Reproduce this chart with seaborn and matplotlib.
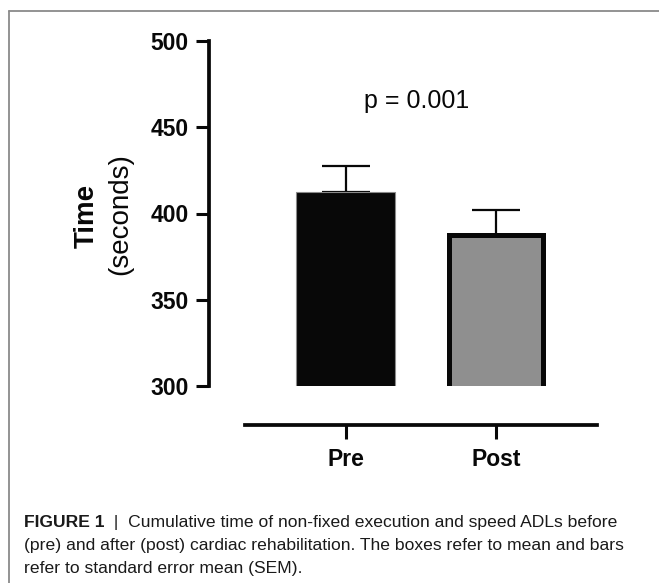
import numpy as np
import pandas as pd
import matplotlib
matplotlib.use("Agg")
import matplotlib.pyplot as plt
from matplotlib.lines import Line2D
import seaborn as sns

# values
groups = ["Pre", "Post"]
means = [412.5, 387.5]
sems = [15.0, 14.5]
y_ticks = [300, 350, 400, 450, 500]
p_label = "p = 0.001"
caption_bold = "FIGURE 1"
caption_lines = [
    "  |  Cumulative time of non-fixed execution and speed ADLs before",
    "(pre) and after (post) cardiac rehabilitation. The boxes refer to mean and bars",
    "refer to standard error mean (SEM).",
]

sns.set_style("white")
plt.rcParams["font.family"] = ["Liberation Sans", "DejaVu Sans"]

W, H = 659, 583
fig = plt.figure(figsize=(W / 100, H / 100), dpi=100)

# axes placed in pixel terms of the reference
left, right, top, bottom = 245, 597, 41, 386
ax = fig.add_axes([left / W, 1 - bottom / H, (right - left) / W, (bottom - top) / H])

df = pd.DataFrame({"group": groups, "mean": means})
sns.barplot(data=df, x="group", y="mean", hue="group", palette=["#080808", "#8f8f8f"],
            width=0.66, legend=False, ax=ax, errorbar=None, zorder=3)

pre_bar, post_bar = ax.patches[0], ax.patches[1]
pre_bar.set_edgecolor("#8a8a8a")
pre_bar.set_linewidth(0.8)
post_bar.set_edgecolor("#080808")
post_bar.set_linewidth(3.6)
# keep the outer edge of the outlined bar at the same width as the other one
shrink = 0.033
post_bar.set_x(post_bar.get_x() + shrink / 2)
post_bar.set_width(post_bar.get_width() - shrink)

# upper-only SEM whiskers, tucked behind the bars
ax.errorbar([0, 1], means, yerr=[np.zeros(2), sems], fmt="none", ecolor="#080808",
            elinewidth=1.6, capsize=17.5, capthick=1.6, zorder=1)

ax.set_ylim(300, 500)
ax.set_xlim(-0.673, 1.673)
ax.set_yticks(y_ticks)
ax.set_xlabel("")
ax.set_ylabel("")

sns.despine(ax=ax, top=True, right=True)
ax.spines["left"].set_position(("outward", 26))
ax.spines["bottom"].set_position(("outward", 28))
for s in ["left", "bottom"]:
    ax.spines[s].set_linewidth(2.7)
    ax.spines[s].set_color("#080808")

ax.tick_params(axis="y", length=9.5, width=2.2, pad=5, color="#080808",
               labelsize=16.5, left=True)
ax.tick_params(axis="x", length=10, width=2.2, pad=7, color="#080808",
               labelsize=16.5, bottom=True)
for lab in ax.get_yticklabels() + ax.get_xticklabels():
    lab.set_fontweight("bold")
    lab.set_color("#080808")

ax.text(0.47, 465.5, p_label, ha="center", va="center", fontsize=18, color="#080808")

# two-line y label
fig.text(87 / W, 1 - 216 / H, "Time", rotation=90, ha="center", va="center",
         fontsize=20, fontweight="bold", color="#080808")
fig.text(120 / W, 1 - 214 / H, "(seconds)", rotation=90, ha="center", va="center",
         fontsize=20, color="#080808")

# frame lines of the figure panel
fig.add_artist(Line2D([9 / W, 9 / W], [0, 1 - 11 / H], transform=fig.transFigure,
                      color="#8a8a8a", linewidth=1.3))
fig.add_artist(Line2D([9 / W, 1], [1 - 11 / H, 1 - 11 / H], transform=fig.transFigure,
                      color="#8a8a8a", linewidth=1.3))

# caption
cap_size = 12.6
cap_x = 24 / W
baselines = [527, 550, 573]
t_bold = fig.text(cap_x, 1 - baselines[0] / H, caption_bold, fontsize=cap_size,
                  fontweight="bold", va="baseline", color="#1a1a1a")
fig.canvas.draw()
bb = t_bold.get_window_extent(renderer=fig.canvas.get_renderer())
fig.text(bb.x1 / W, 1 - baselines[0] / H, caption_lines[0], fontsize=cap_size,
         va="baseline", color="#1a1a1a")
for line, yb in zip(caption_lines[1:], baselines[1:]):
    fig.text(cap_x, 1 - yb / H, line, fontsize=cap_size, va="baseline", color="#1a1a1a")

fig.savefig("out.png", dpi=100)
